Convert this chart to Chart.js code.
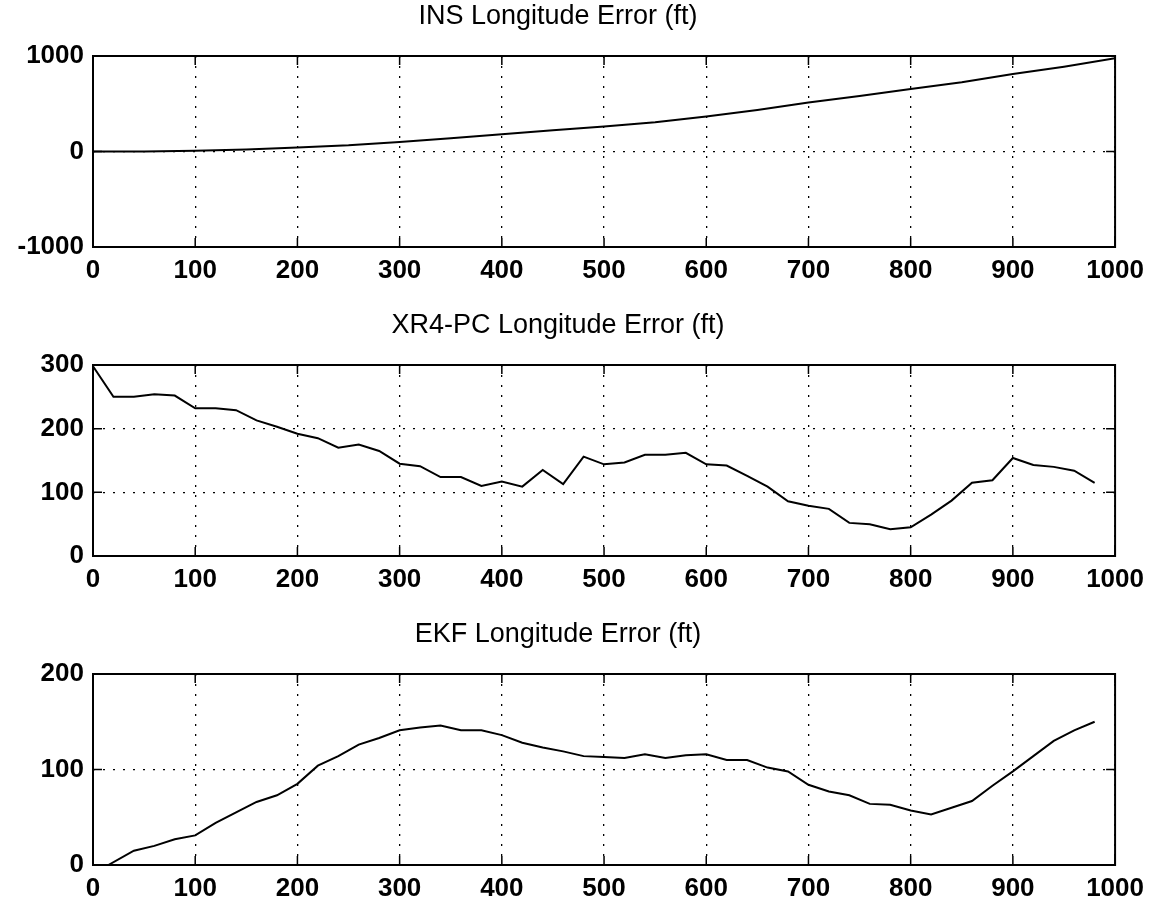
<!DOCTYPE html>
<html>
<head>
<meta charset="utf-8">
<script src="https://cdn.jsdelivr.net/npm/chart.js@4.4.0/dist/chart.umd.min.js"></script>
<style>
  html, body { margin: 0; padding: 0; background: #fff; overflow: hidden; }
  .panel { position: absolute; left: 0; width: 1152px; height: 300px; }
</style>
</head>
<body>
<div class="panel" style="top:0px"><canvas id="insChart" width="1152" height="300"></canvas></div>
<div class="panel" style="top:309px"><canvas id="xr4Chart" width="1152" height="300"></canvas></div>
<div class="panel" style="top:618px"><canvas id="ekfChart" width="1152" height="300"></canvas></div>
<script>
// longitude error (ft) against time
const insTime = [0, 50, 100, 150, 200, 250, 300, 350, 400, 450, 500, 550, 600, 650, 700, 750, 800, 850, 900, 950, 1000];
const insError = [0, 0, 8, 22, 42, 65, 100, 140, 180, 222, 262, 307, 366, 435, 512, 582, 655, 725, 812, 888, 976];

const xr4Time = [0, 20, 40, 60, 80, 100, 120, 140, 160, 180, 200, 220, 240, 260, 280, 300, 320, 340, 360, 380,
                 400, 420, 440, 460, 480, 500, 520, 540, 560, 580, 600, 620, 640, 660, 680, 700, 720, 740, 760, 780,
                 800, 820, 840, 860, 880, 900, 920, 940, 960, 980];
const xr4Error = [298, 250, 250, 254, 252, 232, 232, 229, 213, 203, 192, 185, 170, 175, 165, 145, 141, 124, 124, 110,
                  117, 109, 135, 113, 156, 144, 147, 159, 159, 162, 144, 142, 126, 109, 86, 79, 74, 52, 50, 42,
                  45, 65, 87, 115, 119, 154, 143, 140, 134, 115];

const ekfTime = [15, 40, 60, 80, 100, 120, 140, 160, 180, 200, 220, 240, 260, 280, 300, 320, 340, 360, 380,
                 400, 420, 440, 460, 480, 500, 520, 540, 560, 580, 600, 620, 640, 660, 680, 700, 720, 740, 760, 780,
                 800, 820, 840, 860, 880, 900, 920, 940, 960, 980];
const ekfError = [0, 15, 20, 27, 31, 44, 55, 66, 73, 85, 104, 114, 126, 133, 141, 144, 146, 141, 141,
                  136, 128, 123, 119, 114, 113, 112, 116, 112, 115, 116, 110, 110, 102, 98, 84, 77, 73, 64, 63,
                  57, 53, 60, 67, 83, 98, 114, 130, 141, 150];

const xTicks = [0, 100, 200, 300, 400, 500, 600, 700, 800, 900, 1000];
const insTicks = [-1000, 0, 1000];
const xr4Ticks = [0, 100, 200, 300];
const ekfTicks = [0, 100, 200];

const FONT = "'Liberation Sans', Arial, Helvetica, sans-serif";

// solid box round the plot area plus short inward tick marks, matlab style
const frameAndTicks = {
    id: 'frameAndTicks',
    afterDraw(chart) {
        const { ctx, chartArea: a, scales: { x, y } } = chart;
        ctx.save();
        ctx.strokeStyle = '#000';
        ctx.lineWidth = 2;
        ctx.strokeRect(a.left, a.top, a.right - a.left, a.bottom - a.top);
        ctx.lineWidth = 1.5;
        ctx.beginPath();
        x.ticks.forEach(t => {
            const px = x.getPixelForValue(t.value);
            ctx.moveTo(px, a.bottom); ctx.lineTo(px, a.bottom - 9);
            ctx.moveTo(px, a.top); ctx.lineTo(px, a.top + 9);
        });
        y.ticks.forEach(t => {
            const py = y.getPixelForValue(t.value);
            ctx.moveTo(a.left, py); ctx.lineTo(a.left + 9, py);
            ctx.moveTo(a.right, py); ctx.lineTo(a.right - 9, py);
        });
        ctx.stroke();
        ctx.restore();
    }
};

const makeChart = (id, title, times, errors, yTicks) => {
    const ctx = document.getElementById(id).getContext('2d');
    return new Chart(ctx, {
        type: 'line',
        data: {
            datasets: [{
                data: times.map((t, i) => ({ x: t, y: errors[i] })),
                borderColor: '#000',
                borderWidth: 2,
                pointRadius: 0,
                tension: 0,
                fill: false
            }]
        },
        options: {
            responsive: false,
            animation: false,
            layout: { padding: { left: 0, right: 36, top: 0, bottom: 0 } },
            plugins: {
                legend: { display: false },
                tooltip: { enabled: false },
                title: {
                    display: true,
                    text: title,
                    color: '#000',
                    font: { family: FONT, size: 27, weight: 'normal' },
                    padding: { top: 0, bottom: 23.6 }
                }
            },
            scales: {
                x: {
                    type: 'linear',
                    min: 0,
                    max: 1000,
                    afterBuildTicks: axis => { axis.ticks = xTicks.map(v => ({ value: v })); },
                    afterFit: axis => { axis.height = 53; },
                    grid: { color: '#000', lineWidth: 1.3, drawTicks: false },
                    border: { display: false, dash: [2, 8] },
                    ticks: {
                        color: '#000',
                        padding: 8,
                        maxRotation: 0,
                        callback: v => String(v),
                        font: { family: FONT, size: 26, weight: 'bold' }
                    }
                },
                y: {
                    type: 'linear',
                    min: yTicks[0],
                    max: yTicks[yTicks.length - 1],
                    afterBuildTicks: axis => { axis.ticks = yTicks.map(v => ({ value: v })); },
                    afterFit: axis => { axis.width = 93; },
                    grid: { color: '#000', lineWidth: 1.3, drawTicks: false },
                    border: { display: false, dash: [2, 8] },
                    ticks: {
                        color: '#000',
                        padding: 9,
                        callback: v => String(v),
                        font: { family: FONT, size: 26, weight: 'bold' }
                    }
                }
            }
        },
        plugins: [frameAndTicks]
    });
};

makeChart('insChart', 'INS Longitude Error (ft)', insTime, insError, insTicks);
makeChart('xr4Chart', 'XR4-PC Longitude Error (ft)', xr4Time, xr4Error, xr4Ticks);
makeChart('ekfChart', 'EKF Longitude Error (ft)', ekfTime, ekfError, ekfTicks);
</script>
</body>
</html>
